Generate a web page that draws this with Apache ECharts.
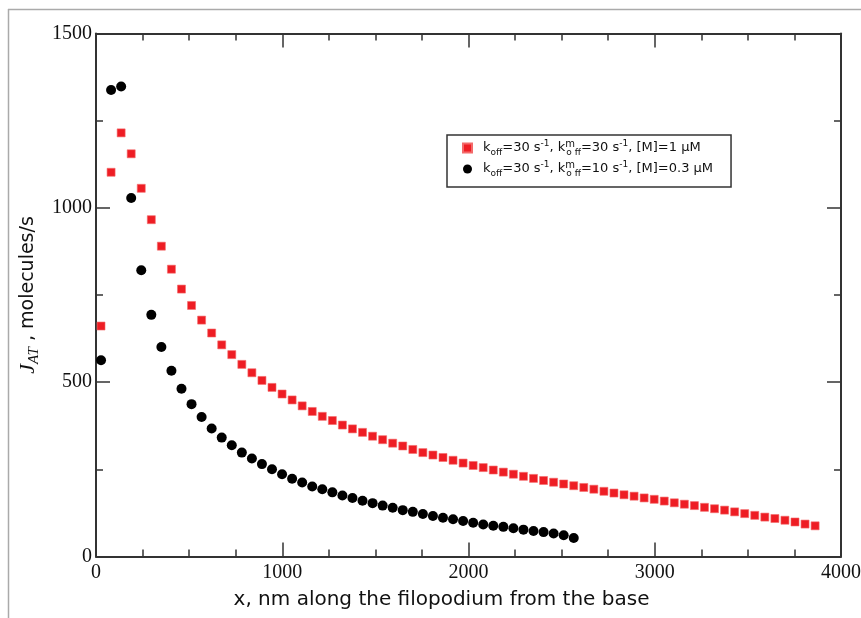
<!DOCTYPE html>
<html>
<head>
<meta charset="utf-8">
<script src="https://cdn.jsdelivr.net/npm/echarts@6/dist/echarts.min.js"></script>
<style>
html,body{margin:0;padding:0;background:#fff;}
#chart{width:861px;height:618px;}
</style>
</head>
<body>
<div id="chart"></div>
<script>
// x positions (nm along the filopodium)
const xPos = [27, 81, 135, 189, 243, 297, 351, 405, 459, 513, 567, 621, 675, 729, 783, 837,
  891, 945, 999, 1053, 1107, 1161, 1215, 1269, 1323, 1377, 1431, 1485, 1539, 1593, 1647, 1701,
  1755, 1809, 1863, 1917, 1971, 2025, 2079, 2133, 2187, 2241, 2295, 2349, 2403, 2457, 2511, 2565,
  2619, 2673, 2727, 2781, 2835, 2889, 2943, 2997, 3051, 3105, 3159, 3213, 3267, 3321, 3375, 3429,
  3483, 3537, 3591, 3645, 3699, 3753, 3807, 3861];

// koff=30, kmoff=30, [M]=1 uM (red squares)
const fluxRed = [661, 1102, 1215, 1155, 1056, 966, 890, 824, 767, 720, 678, 641, 607, 579, 551, 527,
  505, 485, 466, 449, 432, 416, 402, 390, 377, 366, 356, 345, 335, 325, 317, 307,
  298, 291, 284, 276, 268, 261, 255, 248, 242, 236, 230, 224, 218, 213, 208, 203,
  198, 193, 187, 182, 177, 173, 168, 164, 159, 154, 150, 146, 141, 137, 133, 128,
  123, 118, 113, 109, 104, 99, 93, 88];

// koff=30, kmoff=10, [M]=0.3 uM (black circles)
const fluxBlack = [563, 1338, 1348, 1028, 821, 693, 601, 533, 481, 437, 400, 367, 341, 319, 298, 281,
  265, 250, 236, 223, 212, 201, 193, 184, 175, 168, 160, 153, 146, 140, 133, 128,
  122, 116, 111, 107, 102, 97, 92, 88, 85, 81, 77, 73, 70, 66, 61, 53];

const xTicks = {min: 0, max: 4000, interval: 1000};
const yTicks = {min: 0, max: 1500, interval: 500};

const seriesNames = ['red', 'black'];
const legendLabels = {
  red: '{t|k}{s|off}{t|=30 s}{p|-1}{t|, k}{pm|m}{s|o ff}{t|=30 s}{p|-1}{t|, [M]=1 μM}',
  black: '{t|k}{s|off}{t|=30 s}{p|-1}{t|, k}{pm|m}{s|o ff}{t|=10 s}{p|-1}{t|, [M]=0.3 μM}'
};

const chart = echarts.init(document.getElementById('chart'), null, {renderer: 'canvas'});

const axisColor = '#333';
const labelFont = 'Liberation Serif';
const sans = 'DejaVu Sans';
const plainNum = function (v) { return String(v); };

function baseAxis(extra) {
  return Object.assign({
    type: 'value',
    axisLine: {show: true, onZero: false, lineStyle: {color: axisColor, width: 2}},
    axisTick: {show: true, inside: true, length: 14, lineStyle: {color: axisColor, width: 1.5}},
    minorTick: {show: true, length: 7, lineStyle: {color: axisColor, width: 1.5}},
    splitLine: {show: false},
    minorSplitLine: {show: false}
  }, extra);
}

const option = {
  animation: false,
  backgroundColor: '#fff',
  grid: {left: 96, right: 20, top: 33.5, bottom: 61.5, containLabel: false, outerBoundsMode: 'none'},
  legend: {
    show: true,
    orient: 'vertical',
    left: 447,
    top: 135,
    selectedMode: false,
    borderColor: '#333',
    borderWidth: 1.5,
    padding: [4, 18, 9, 15],
    itemGap: 3,
    itemWidth: 9,
    itemHeight: 9,
    data: seriesNames,
    formatter: function (name) { return legendLabels[name]; },
    textStyle: {
      padding: [0, 0, 0, 6],
      rich: {
        t: {fontFamily: sans, fontSize: 13, color: '#111', lineHeight: 18, verticalAlign: 'middle'},
        s: {fontFamily: sans, fontSize: 9, color: '#111', lineHeight: 18, verticalAlign: 'bottom'},
        p: {fontFamily: sans, fontSize: 9, color: '#111', lineHeight: 18, verticalAlign: 'top'},
        pm: {fontFamily: sans, fontSize: 10, color: '#111', lineHeight: 18, verticalAlign: 'top', width: 1}
      }
    }
  },
  xAxis: [
    baseAxis({
      position: 'bottom',
      min: xTicks.min, max: xTicks.max, interval: xTicks.interval,
      minorTick: {show: true, splitNumber: 4, length: 7, lineStyle: {color: axisColor, width: 1.5}},
      axisLabel: {fontFamily: labelFont, fontSize: 20, color: '#111', margin: 6, formatter: plainNum},
      name: 'x, nm along the filopodium from the base',
      nameLocation: 'middle',
      nameGap: 33,
      nameTextStyle: {fontFamily: sans, fontSize: 20, color: '#111', padding: [0, 54, 0, 0]}
    }),
    baseAxis({
      position: 'top',
      min: xTicks.min, max: xTicks.max, interval: xTicks.interval,
      minorTick: {show: true, splitNumber: 4, length: 7, lineStyle: {color: axisColor, width: 1.5}},
      axisLabel: {show: false}
    })
  ],
  yAxis: [
    baseAxis({
      position: 'left',
      min: yTicks.min, max: yTicks.max, interval: yTicks.interval,
      minorTick: {show: true, splitNumber: 2, length: 7, lineStyle: {color: axisColor, width: 1.5}},
      axisLabel: {fontFamily: labelFont, fontSize: 20, color: '#111', margin: 4, formatter: plainNum},
      name: '{j|J}{js|AT}{m| , molecules/s}',
      nameLocation: 'middle',
      nameGap: 41,
      nameRotate: 90,
      nameTextStyle: {
        rich: {
          j: {fontFamily: labelFont, fontStyle: 'italic', fontSize: 22, color: '#111', lineHeight: 26, verticalAlign: 'middle'},
          js: {fontFamily: labelFont, fontStyle: 'italic', fontSize: 15, color: '#111', lineHeight: 26, verticalAlign: 'bottom'},
          m: {fontFamily: sans, fontSize: 19, color: '#111', lineHeight: 26, verticalAlign: 'middle'}
        }
      }
    }),
    baseAxis({
      position: 'right',
      min: yTicks.min, max: yTicks.max, interval: yTicks.interval,
      minorTick: {show: true, splitNumber: 2, length: 7, lineStyle: {color: axisColor, width: 1.5}},
      axisLabel: {show: false}
    })
  ],
  series: [
    {
      name: 'red',
      type: 'scatter',
      symbol: 'rect',
      symbolSize: 8,
      itemStyle: {color: '#ee1d24', borderColor: '#f36a6a', borderWidth: 0.6, opacity: 1},
      data: fluxRed.map((v, i) => [xPos[i], v])
    },
    {
      name: 'black',
      type: 'scatter',
      symbol: 'circle',
      symbolSize: 10,
      itemStyle: {color: '#000', opacity: 1},
      data: fluxBlack.map((v, i) => [xPos[i], v])
    }
  ],
  graphic: [
    {type: 'line', shape: {x1: 8, y1: 9.5, x2: 861, y2: 9.5}, style: {stroke: '#aaa', lineWidth: 1.5}, silent: true},
    {type: 'line', shape: {x1: 8.5, y1: 9, x2: 8.5, y2: 618}, style: {stroke: '#aaa', lineWidth: 1.5}, silent: true}
  ]
};

chart.setOption(option);
</script>
</body>
</html>
